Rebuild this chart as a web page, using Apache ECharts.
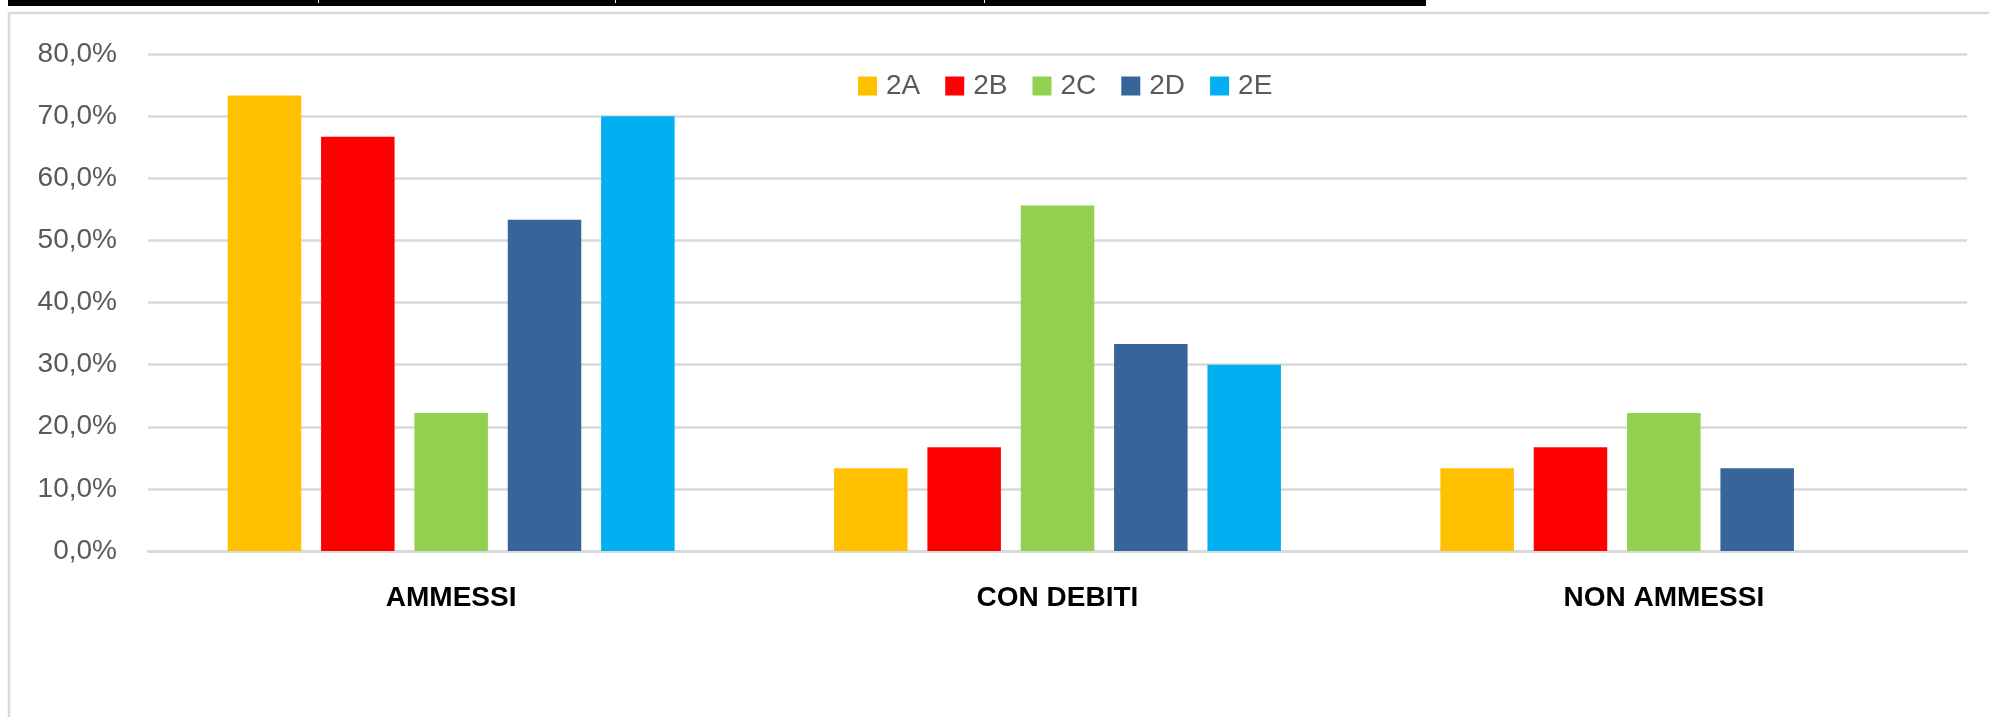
<!DOCTYPE html>
<html>
<head>
<meta charset="utf-8">
<title>Esiti classi seconde</title>
<script src="https://cdn.jsdelivr.net/npm/echarts@6/dist/echarts.min.js"></script>
<style>
	html, body { margin: 0; padding: 0; background: #fff; }
	#main { width: 1989px; height: 717px; }
</style>
</head>
<body>
<div id="main"></div>
<script>
// categorie e valori (percentuali)
var categories = ['AMMESSI', 'CON DEBITI', 'NON AMMESSI'];
var classi = ['2A', '2B', '2C', '2D', '2E'];
var val2A = [73.3, 13.3, 13.3];
var val2B = [66.7, 16.7, 16.7];
var val2C = [22.2, 55.6, 22.2];
var val2D = [53.3, 33.3, 13.3];
var val2E = [70.0, 30.0, 0];
var yTicks = [0, 10, 20, 30, 40, 50, 60, 70, 80];

var colors = ['#ffc000', '#ff0000', '#92d050', '#376499', '#00b0f0'];
var valori = [val2A, val2B, val2C, val2D, val2E];

var myChart = echarts.init(document.getElementById('main'));

var series = [];
for (var i = 0; i < classi.length; i++) {
	series.push({
		name: classi[i],
		type: 'bar',
		barWidth: 73.5,
		barGap: '27%',
		data: valori[i]
	});
}

var option = {
	animation: false,
	color: colors,
	textStyle: { fontFamily: 'Liberation Sans' },
	graphic: [
		// bordo del riquadro del grafico
		{ type: 'rect', shape: { x: 9, y: 13, width: 2100, height: 800 },
		  style: { fill: 'none', stroke: '#d9d9d9', lineWidth: 2.5 }, silent: true },
		// bordo inferiore della tabella sopra
		{ type: 'rect', shape: { x: 8, y: 0, width: 1418, height: 6 },
		  style: { fill: '#000' }, silent: true },
		{ type: 'rect', shape: { x: 318, y: 0, width: 1, height: 3 }, style: { fill: '#fff' }, silent: true },
		{ type: 'rect', shape: { x: 615, y: 0, width: 1, height: 3 }, style: { fill: '#fff' }, silent: true },
		{ type: 'rect', shape: { x: 984, y: 0, width: 1, height: 3 }, style: { fill: '#fff' }, silent: true }
	],
	legend: {
		data: classi,
		left: 853,
		top: 67,
		itemWidth: 19,
		itemHeight: 19,
		itemGap: 25,
		icon: 'rect',
		textStyle: {
			fontSize: 28,
			color: '#595959',
			padding: [0, 0, 0, 4]
		}
	},
	grid: {
		left: 148,
		right: 22,
		top: 54,
		bottom: 166,
		containLabel: false
	},
	xAxis: {
		type: 'category',
		data: categories,
		axisTick: { show: false },
		axisLine: { lineStyle: { color: '#d9d9d9', width: 2.5 } },
		axisLabel: {
			margin: 33,
			fontSize: 28,
			fontWeight: 'bold',
			color: '#000'
		}
	},
	yAxis: {
		type: 'value',
		min: yTicks[0],
		max: yTicks[yTicks.length - 1],
		interval: 10,
		axisLine: { show: false },
		axisTick: { show: false },
		splitLine: { lineStyle: { color: '#d9d9d9', width: 2.5 } },
		axisLabel: {
			margin: 31,
			fontSize: 28,
			color: '#595959',
			formatter: function (v) { return v.toFixed(1).replace('.', ',') + '%'; }
		}
	},
	series: series
};

myChart.setOption(option);
window.onresize = myChart.resize;
</script>
</body>
</html>
